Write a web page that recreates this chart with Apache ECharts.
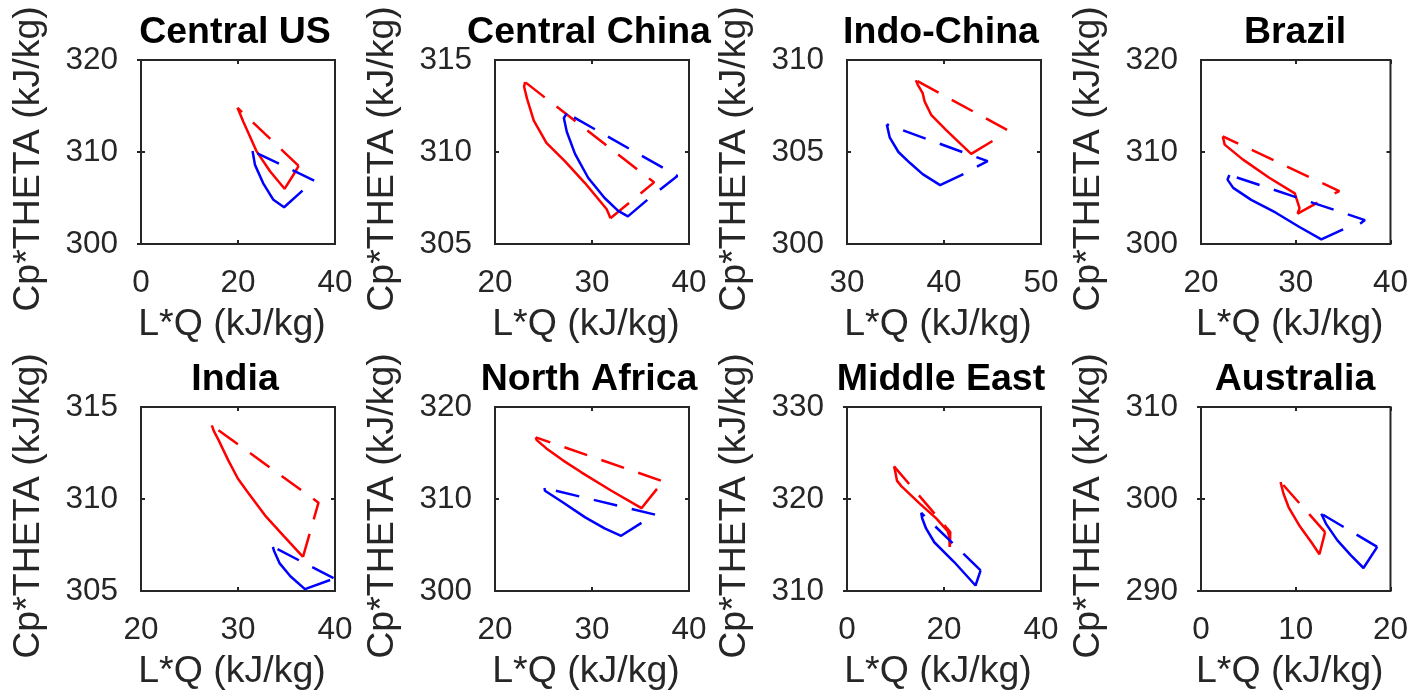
<!DOCTYPE html>
<html>
<head>
<meta charset="utf-8">
<script src="https://cdn.jsdelivr.net/npm/echarts@6/dist/echarts.min.js"></script>
<style>
html,body{margin:0;padding:0;background:#fff;}
#chart{width:1411px;height:694px;}
</style>
</head>
<body>
<div id="chart"></div>
<script>
// ---- data ----
const titles = ['Central US','Central China','Indo-China','Brazil','India','North Africa','Middle East','Australia'];
const xTicks = [[0,20,40],[20,30,40],[30,40,50],[20,30,40],[20,30,40],[20,30,40],[0,20,40],[0,10,20]];
const yTicks = [[300,310,320],[305,310,315],[300,305,310],[300,310,320],[305,310,315],[300,310,320],[310,320,330],[290,300,310]];
const xLabel = 'L*Q (kJ/kg)';
const yLabel = 'Cp*THETA (kJ/kg)';

const usRedSolid = [[19.9,314.8],[21.1,313.3],[23.8,310.1],[26.6,307.9],[29.6,306.0],[31.4,307.5],[32.5,308.5]];
const usRedDash = [[32.5,308.5],[19.9,314.8]];
const usBlueSolid = [[23.0,310.1],[23.5,308.6],[25.2,306.6],[27.3,304.8],[29.5,304.0],[33.3,305.8]];
const usBlueDash = [[35.7,306.9],[23.0,310.1]];

const cnRedSolid = [[23.1,313.8],[23.0,313.55],[23.3,312.9],[24.0,311.7],[25.3,310.5],[27.2,309.5],[29.3,308.3],[31.5,306.9],[31.75,306.6],[31.9,306.4]];
const cnRedDash = [[31.9,306.4],[36.4,308.35],[23.1,313.8]];
const cnBlueSolid = [[27.4,312.1],[27.1,311.85],[27.4,311.1],[28.25,309.9],[29.6,308.6],[31.3,307.5],[32.7,306.8],[33.7,306.5],[35.7,307.4]];
const cnBlueDash = [[37.0,307.95],[38.8,308.7],[27.4,312.1]];

const icRedSolid = [[37.1,308.9],[37.3,308.65],[37.8,308.2],[38.0,307.75],[38.7,307.0],[40.2,306.2],[41.6,305.5],[42.8,304.9],[45.0,305.6]];
const icRedDash = [[46.5,306.2],[37.1,308.9]];
const icBlueSolid = [[34.1,306.5],[33.9,306.4],[34.4,305.8],[35.3,305.0],[36.5,304.4],[37.8,303.8],[39.6,303.2],[42.0,303.8]];
const icBlueDash = [[43.4,304.2],[44.5,304.5],[34.1,306.5]];

const brRedSolid = [[22.3,311.7],[22.5,310.8],[24.4,309.2],[27.2,307.2],[29.9,305.5],[30.4,303.9],[30.2,303.3],[32.3,304.5]];
const brRedDash = [[34.1,305.5],[34.6,305.75],[22.3,311.7]];
const brBlueSolid = [[23.0,307.5],[22.8,307.0],[23.4,306.1],[25.3,304.8],[27.9,303.4],[30.3,301.9],[32.7,300.5],[35.0,301.6]];
const brBlueDash = [[36.8,302.2],[37.3,302.6],[23.0,307.5]];

const inRedSolid = [[27.3,314.0],[27.5,313.7],[28.0,313.2],[29.0,312.1],[30.0,311.1],[31.1,310.3],[32.8,309.1],[34.7,308.0],[36.7,306.85]];
const inRedDash = [[36.7,306.85],[38.3,309.8],[27.3,314.0]];
const inBlueSolid = [[33.6,307.4],[33.7,307.2],[34.3,306.5],[35.4,305.8],[36.9,305.1],[39.5,305.6]];
const inBlueDash = [[39.85,305.7],[33.6,307.4]];

const naRedSolid = [[24.2,316.7],[24.3,316.4],[25.3,315.5],[27.0,314.2],[28.9,312.9],[32.0,310.9],[35.1,309.0],[36.7,311.1]];
const naRedDash = [[37.1,312.0],[24.2,316.7]];
const naBlueSolid = [[25.1,311.2],[25.15,310.9],[26.9,309.7],[29.3,308.0],[31.3,306.8],[33.0,306.0],[35.1,307.4]];
const naBlueDash = [[36.5,308.3],[25.1,311.2]];

const meRedSolid = [[9.7,323.55],[9.9,323.1],[10.3,322.0],[11.2,321.4],[15.0,319.5],[18.4,317.9],[20.75,316.5],[21.1,315.9],[21.2,314.8]];
const meRedDash = [[21.2,314.8],[21.3,316.4],[9.7,323.55]];
const meBlueSolid = [[15.3,318.5],[15.5,317.9],[16.3,316.8],[18.0,315.3],[22.1,313.15],[26.5,310.6],[27.55,312.25]];
const meBlueDash = [[27.55,312.25],[15.3,318.5]];

const auRedSolid = [[8.4,301.85],[8.7,300.6],[9.25,299.1],[10.45,297.0],[11.65,295.3],[12.5,294.0],[13.1,296.4]];
const auRedDash = [[13.1,296.4],[8.4,301.85]];
const auBlueSolid = [[12.7,298.4],[13.2,297.3],[14.4,295.5],[15.8,293.9],[17.15,292.5],[18.6,294.8]];
const auBlueDash = [[18.6,294.8],[12.7,298.4]];

const panelSeries = [
  [usRedSolid, usRedDash, usBlueSolid, usBlueDash],
  [cnRedSolid, cnRedDash, cnBlueSolid, cnBlueDash],
  [icRedSolid, icRedDash, icBlueSolid, icBlueDash],
  [brRedSolid, brRedDash, brBlueSolid, brBlueDash],
  [inRedSolid, inRedDash, inBlueSolid, inBlueDash],
  [naRedSolid, naRedDash, naBlueSolid, naBlueDash],
  [meRedSolid, meRedDash, meBlueSolid, meBlueDash],
  [auRedSolid, auRedDash, auBlueSolid, auBlueDash]
];

// ---- layout / style ----
const FONT = "'Liberation Sans', Arial, Helvetica, sans-serif";
const AX = '#262626';
const colLeft = [141, 495, 847, 1201];
const rowTop = [60, 407];
const W = 194, H = 184;
const DASH = [24, 15];
const seriesStyle = [
  {color:'#ff0000', type:'solid'},
  {color:'#ff0000', type:DASH},
  {color:'#0000ff', type:'solid'},
  {color:'#0000ff', type:DASH}
];

const grid = [], xAxis = [], yAxis = [], title = [], series = [];
titles.forEach((t, i) => {
  const left = colLeft[i % 4], top = rowTop[Math.floor(i / 4)];
  grid.push({left: left, top: top, width: W, height: H, show: true, borderColor: AX, borderWidth: 2, backgroundColor: '#fff'});
  title.push({text: t, left: left + W / 2 - 3, top: top - 46, textAlign: 'center', padding: 0,
    textStyle: {fontFamily: FONT, fontSize: 37.5, fontWeight: 'bold', color: '#000'}});
  const xt = xTicks[i], yt = yTicks[i];
  const xi = xt[1] - xt[0], yi = yt[1] - yt[0];
  const tick = {show: true, inside: true, length: 4, lineStyle: {color: AX, width: 2}};
  xAxis.push({gridIndex: i, type: 'value', position: 'bottom', min: xt[0], max: xt[xt.length - 1], interval: xi,
    axisLine: {show: false}, axisTick: tick, splitLine: {show: false},
    axisLabel: {fontFamily: FONT, fontSize: 31.5, color: AX, margin: 23},
    name: xLabel, nameLocation: 'middle', nameGap: 62,
    nameTextStyle: {fontFamily: FONT, fontSize: 37.5, color: AX, padding: [0, 12, 0, 0]}});
  xAxis.push({gridIndex: i, type: 'value', position: 'top', min: xt[0], max: xt[xt.length - 1], interval: xi,
    axisLine: {show: false}, axisTick: tick, splitLine: {show: false}, axisLabel: {show: false}});
  yAxis.push({gridIndex: i, type: 'value', position: 'left', min: yt[0], max: yt[yt.length - 1], interval: yi,
    axisLine: {show: false}, axisTick: tick, splitLine: {show: false},
    axisLabel: {fontFamily: FONT, fontSize: 31.5, color: AX, margin: 23, padding: [9, 0, 0, 0]},
    name: yLabel, nameLocation: 'middle', nameGap: 93,
    nameTextStyle: {fontFamily: FONT, fontSize: 37.5, color: AX, padding: [0, 14, 0, 0]}});
  yAxis.push({gridIndex: i, type: 'value', position: 'right', min: yt[0], max: yt[yt.length - 1], interval: yi,
    axisLine: {show: false}, axisTick: tick, splitLine: {show: false}, axisLabel: {show: false}});
  panelSeries[i].forEach((d, k) => {
    series.push({type: 'line', xAxisIndex: 2 * i, yAxisIndex: 2 * i, data: d,
      showSymbol: false, symbol: 'none', smooth: false, silent: true, clip: true,
      lineStyle: {color: seriesStyle[k].color, type: seriesStyle[k].type, width: 2.5}});
  });
});

const chart = echarts.init(document.getElementById('chart'), null, {renderer: 'canvas'});
chart.setOption({animation: false, backgroundColor: '#fff', title, grid, xAxis, yAxis, series});
</script>
</body>
</html>
